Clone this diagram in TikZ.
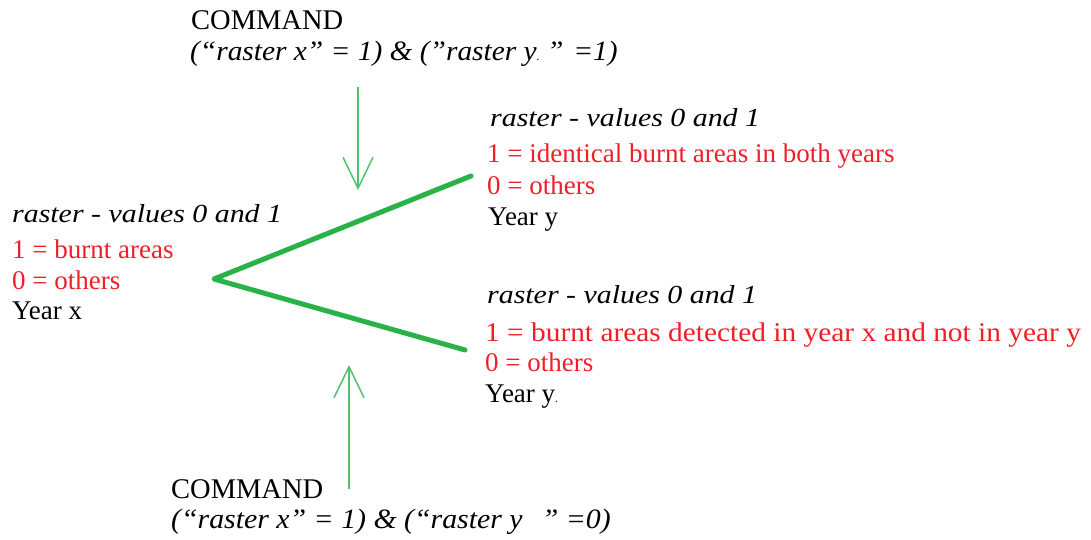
\documentclass[tikz,border=0pt]{standalone}
\usepackage{fontspec}
\setmainfont{Liberation Serif}
\newfontfamily\hdfont[FakeStretch=1.15]{Liberation Serif}
\usetikzlibrary{arrows.meta}
\definecolor{tred}{RGB}{240,30,40}
\definecolor{tgreen}{RGB}{40,178,72}
\definecolor{agreen}{RGB}{80,195,110}
\tikzset{
  x=1pt,y=-1pt,
  txt/.style={anchor=base west,inner sep=0pt,font=\fontsize{27}{30}\selectfont},
  cmdhd/.style={anchor=base west,inner sep=0pt,font=\fontsize{28.5}{30}\selectfont},
  hd/.style={anchor=base west,inner sep=0pt,font=\hdfont\itshape\fontsize{26}{30}\selectfont},
  rtxt/.style={txt,text=tred},
  cmd/.style={anchor=base west,inner sep=0pt,font=\itshape\fontsize{28}{30}\selectfont},
  garrow/.style={draw=agreen,line width=1.5pt,-{Straight Barb[length=31pt,width=30pt,line width=1.5pt]}},
  gline/.style={draw=tgreen,line width=5pt,line join=round,line cap=round}
}
\newcommand{\smdot}{{\fontsize{12}{12}\selectfont .}}
\begin{document}
\begin{tikzpicture}
\useasboundingbox (0,0) rectangle (1091,540);
% top command
\node[cmdhd] (c1a) at (191,30) {COMMAND};
\node[cmd] (c1b) at (190,61) {\scalebox{1.05}[1]{(“raster x” = 1) \& ("raster y\smdot\ ” =1)}};
% bottom command
\node[cmdhd] (c2a) at (171,498) {COMMAND};
\node[cmd] (c2b) at (171,528) {\scalebox{1.065}[1]{(“raster x” = 1) \& (“raster y\hspace{18pt}” =0)}};
% left block
\node[hd] (lh) at (12,222) {raster - values 0 and 1};
\node[rtxt] (l1) at (12,258) {1 = burnt areas};
\node[rtxt] (l0) at (12,289) {0 = others};
\node[txt] (ly) at (12,319) {Year x};
% upper right block
\node[hd] (uh) at (490,127) {raster - values 0 and 1};
\node[rtxt] (u1) at (487,163) {1 = identical burnt areas in both years};
\node[rtxt] (u0) at (487,194) {0 = others};
\node[txt] (uy) at (488,225) {Year y};
% lower right block
\node[hd] (dh) at (487,303) {raster - values 0 and 1};
\node[rtxt] (d1) at (485,341) {\scalebox{1.088}[1]{1 = burnt areas detected in year x and not in year y}};
\node[rtxt] (d0) at (485,371) {0 = others};
\node[txt] (dy) at (485,402) {Year y\smdot};
% green branch
\coordinate (v) at (214,279);
\coordinate (ue) at (471,176);
\coordinate (le) at (465,350);
\draw[gline] (ue) -- (v) -- (le);
% arrows
\coordinate (t1) at (358,87);
\coordinate (t2) at (358,190);
\coordinate (b1) at (349,489);
\coordinate (b2) at (349,365);
\draw[garrow] (t1) -- (t2);
\draw[garrow] (b1) -- (b2);
\end{tikzpicture}
\end{document}
